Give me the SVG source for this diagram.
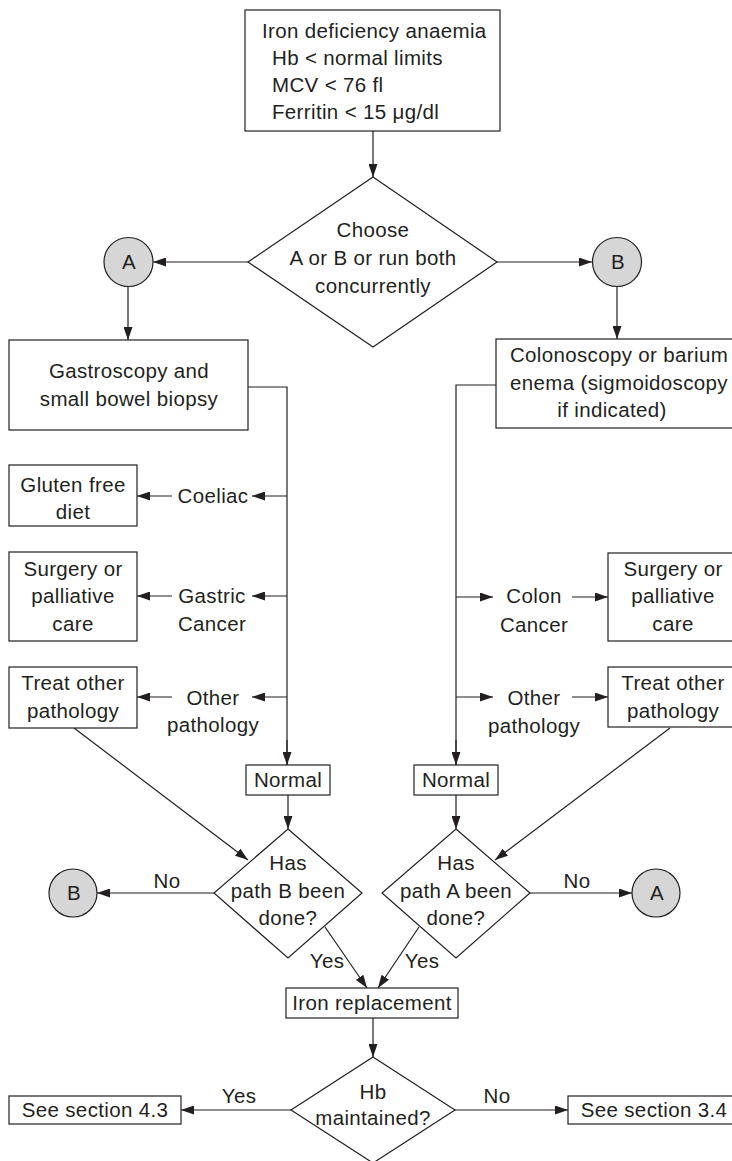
<svg xmlns="http://www.w3.org/2000/svg" width="732" height="1161" viewBox="0 0 732 1161">
<style>
text{font-family:"Liberation Sans",Arial,sans-serif;font-size:20.5px;letter-spacing:0.35px;fill:#231f20}
.m{text-anchor:middle}
.box{fill:#fff;stroke:#231f20;stroke-width:1.2}
.circ{fill:#d6d6d6;stroke:#231f20;stroke-width:1.2}
.ln{fill:none;stroke:#231f20;stroke-width:1.2}
.ar{fill:none;stroke:#231f20;stroke-width:1.2;marker-end:url(#ah)}
</style>
<defs>
<marker id="ah" markerUnits="userSpaceOnUse" markerWidth="14" markerHeight="9" refX="13" refY="4.5" orient="auto">
<path d="M0,0 L13,4.5 L0,9 z" fill="#231f20"/>
</marker>
</defs>
<rect width="732" height="1161" fill="#fff"/>
<g id="connectors">
<line class="ar" x1="373" y1="131" x2="373" y2="177"/>
<line class="ar" x1="248" y1="262" x2="153" y2="262"/>
<line class="ar" x1="496" y1="262" x2="592" y2="262"/>
<line class="ar" x1="128" y1="286" x2="128" y2="340"/>
<line class="ar" x1="617" y1="286" x2="617" y2="339"/>
<polyline class="ln" points="248,387 287,387 287,765"/>
<line class="ar" x1="287" y1="740" x2="287" y2="765"/>
<line class="ar" x1="287" y1="496" x2="252" y2="496"/>
<line class="ar" x1="172" y1="496" x2="137" y2="496"/>
<line class="ar" x1="287" y1="596" x2="252" y2="596"/>
<line class="ar" x1="172" y1="596" x2="137" y2="596"/>
<line class="ar" x1="287" y1="697" x2="252" y2="697"/>
<line class="ar" x1="172" y1="697" x2="137" y2="697"/>
<polyline class="ln" points="496,385 456,385 456,765"/>
<line class="ar" x1="456" y1="740" x2="456" y2="765"/>
<line class="ar" x1="456" y1="597" x2="493" y2="597"/>
<line class="ar" x1="572" y1="597" x2="608" y2="597"/>
<line class="ar" x1="456" y1="697" x2="493" y2="697"/>
<line class="ar" x1="572" y1="697" x2="608" y2="697"/>
<line class="ar" x1="288" y1="795" x2="288" y2="829"/>
<line class="ar" x1="456" y1="795" x2="456" y2="829"/>
<line class="ar" x1="74" y1="728" x2="248" y2="860"/>
<line class="ar" x1="670" y1="728" x2="495" y2="860"/>
<line class="ar" x1="214" y1="893" x2="97" y2="893"/>
<line class="ar" x1="530" y1="893" x2="632" y2="893"/>
<line class="ar" x1="325" y1="927" x2="367" y2="988"/>
<line class="ar" x1="419" y1="927" x2="378" y2="988"/>
<line class="ar" x1="373" y1="1018" x2="373" y2="1057"/>
<line class="ar" x1="291" y1="1110" x2="181" y2="1110"/>
<line class="ar" x1="455" y1="1110" x2="568" y2="1110"/>
</g>
<g id="labels">
<text class="m" x="213" y="503">Coeliac</text>
<text class="m" x="212" y="603">Gastric</text>
<text class="m" x="212" y="631">Cancer</text>
<text class="m" x="213" y="705">Other</text>
<text class="m" x="213" y="732">pathology</text>
<text class="m" x="534" y="603">Colon</text>
<text class="m" x="534" y="632">Cancer</text>
<text class="m" x="534" y="705">Other</text>
<text class="m" x="534" y="733">pathology</text>
<text class="m" x="167" y="888">No</text>
<text class="m" x="577" y="888">No</text>
<text class="m" x="327" y="968">Yes</text>
<text class="m" x="422" y="968">Yes</text>
<text class="m" x="239" y="1103">Yes</text>
<text class="m" x="497" y="1103">No</text>
</g>
<g id="start">
<rect class="box" x="245" y="10" width="255" height="121"/>
<text x="262" y="38">Iron deficiency anaemia</text>
<text x="272" y="65">Hb &lt; normal limits</text>
<text x="272" y="92">MCV &lt; 76 fl</text>
<text x="272" y="119">Ferritin &lt; 15 μg/dl</text>
</g>
<g id="choose">
<polygon class="box" points="373,177 497,262 373,347 248,262"/>
<text class="m" x="373" y="237">Choose</text>
<text class="m" x="373" y="265">A or B or run both</text>
<text class="m" x="373" y="293">concurrently</text>
</g>
<g id="circleA1">
<circle class="circ" cx="128.5" cy="262" r="24.5"/>
<text class="m" x="129" y="269">A</text>
</g>
<g id="circleB1">
<circle class="circ" cx="617" cy="262" r="24.5"/>
<text class="m" x="618" y="269">B</text>
</g>
<g id="gastro">
<rect class="box" x="9" y="340" width="239" height="90"/>
<text class="m" x="129" y="378">Gastroscopy and</text>
<text class="m" x="129" y="406">small bowel biopsy</text>
</g>
<g id="colono">
<rect class="box" x="496" y="339" width="250" height="89"/>
<text class="m" x="619" y="362">Colonoscopy or barium</text>
<text class="m" x="619" y="390">enema (sigmoidoscopy</text>
<text class="m" x="612" y="417">if indicated)</text>
</g>
<g id="gluten">
<rect class="box" x="9" y="465" width="128" height="61"/>
<text class="m" x="73" y="492">Gluten free</text>
<text class="m" x="73" y="519">diet</text>
</g>
<g id="surgeryL">
<rect class="box" x="9" y="552" width="128" height="89"/>
<text class="m" x="73" y="576">Surgery or</text>
<text class="m" x="73" y="603">palliative</text>
<text class="m" x="73" y="631">care</text>
</g>
<g id="treatL">
<rect class="box" x="9" y="667" width="128" height="61"/>
<text class="m" x="73" y="690">Treat other</text>
<text class="m" x="73" y="718">pathology</text>
</g>
<g id="surgeryR">
<rect class="box" x="608" y="553" width="140" height="88"/>
<text class="m" x="673" y="576">Surgery or</text>
<text class="m" x="673" y="603">palliative</text>
<text class="m" x="673" y="631">care</text>
</g>
<g id="treatR">
<rect class="box" x="608" y="667" width="140" height="60"/>
<text class="m" x="673" y="690">Treat other</text>
<text class="m" x="673" y="718">pathology</text>
</g>
<g id="normalL">
<rect class="box" x="246" y="765" width="84" height="30"/>
<text class="m" x="288" y="787">Normal</text>
</g>
<g id="normalR">
<rect class="box" x="414" y="765" width="84" height="30"/>
<text class="m" x="456" y="787">Normal</text>
</g>
<g id="pathB">
<polygon class="box" points="288,829 362,893 288,958 214,893"/>
<text class="m" x="288" y="870">Has</text>
<text class="m" x="288" y="898">path B been</text>
<text class="m" x="288" y="925">done?</text>
</g>
<g id="pathA">
<polygon class="box" points="456,829 530,893 456,958 382,893"/>
<text class="m" x="456" y="870">Has</text>
<text class="m" x="456" y="898">path A been</text>
<text class="m" x="456" y="925">done?</text>
</g>
<g id="circleB2">
<circle class="circ" cx="73" cy="893" r="24"/>
<text class="m" x="74" y="900">B</text>
</g>
<g id="circleA2">
<circle class="circ" cx="656" cy="893" r="24"/>
<text class="m" x="657" y="900">A</text>
</g>
<g id="iron">
<rect class="box" x="286" y="988" width="172" height="30"/>
<text class="m" x="372" y="1010">Iron replacement</text>
</g>
<g id="hb">
<polygon class="box" points="373,1057 455,1110 373,1163 291,1110"/>
<text class="m" x="373" y="1099">Hb</text>
<text class="m" x="373" y="1125">maintained?</text>
</g>
<g id="sec43">
<rect class="box" x="9" y="1096" width="172" height="28"/>
<text class="m" x="95" y="1117">See section 4.3</text>
</g>
<g id="sec34">
<rect class="box" x="568" y="1096" width="180" height="28"/>
<text class="m" x="654" y="1117">See section 3.4</text>
</g>
</svg>
